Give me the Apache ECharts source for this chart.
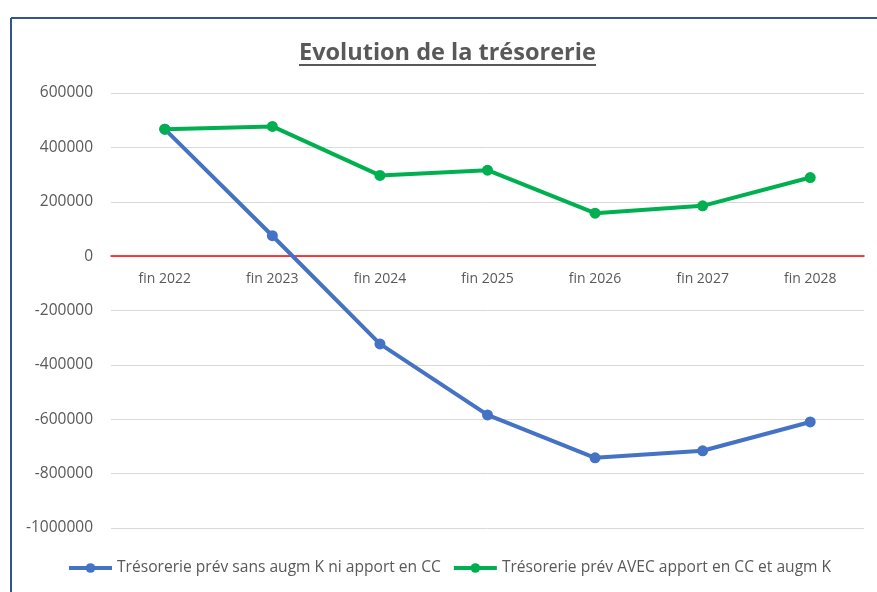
<!DOCTYPE html>
<html>
<head>
<meta charset="utf-8">
<script src="https://cdn.jsdelivr.net/npm/echarts@6/dist/echarts.min.js"></script>
<style>
html,body{margin:0;padding:0;background:#fff;}
#chart{width:877px;height:592px;}
</style>
</head>
<body>
<div id="chart"></div>
<script>
var categories = ['fin 2022','fin 2023','fin 2024','fin 2025','fin 2026','fin 2027','fin 2028'];
var seriesNames = ['Trésorerie prév sans augm K ni apport en CC','Trésorerie prév AVEC apport en CC et augm K'];
var sansApport = [467000, 75000, -323000, -584000, -742000, -716000, -610000];
var avecApport = [467000, 477000, 297000, 316000, 158000, 185000, 289000];
var titleText = 'Evolution de la trésorerie';

var chart = echarts.init(document.getElementById('chart'), null, {renderer:'canvas'});
var font = '"Open Sans", "Noto Sans", sans-serif';
var txt = '#595959';
chart.setOption({
  animation: false,
  backgroundColor: '#fff',
  title: {
    text: titleText,
    left: 294,
    top: 36,
    textStyle: {fontFamily: font, fontSize: 23.5, fontWeight: 'bold', color: txt}
  },
  graphic: [
    {type:'line', shape:{x1:11, y1:18, x2:877, y2:18}, style:{stroke:'#2F5597', lineWidth:2}},
    {type:'line', shape:{x1:11, y1:18, x2:11, y2:592}, style:{stroke:'#2F5597', lineWidth:2}},
    {type:'line', shape:{x1:299, y1:65, x2:596, y2:65}, style:{stroke:txt, lineWidth:2}}
  ],
  legend: {
    top: 555,
    left: 62,
    itemWidth: 43,
    itemHeight: 12,
    itemGap: 11,
    lineStyle: {width: 4},
    textStyle: {fontFamily: font, fontSize: 15.6, color: txt},
    data: seriesNames
  },
  grid: {left: 111, right: 13, top: 93, bottom: 64, containLabel: false},
  xAxis: {
    type: 'category',
    data: categories,
    boundaryGap: true,
    axisLine: {onZero: true, lineStyle: {color: '#FF0000', width: 1.5}},
    axisTick: {show: false},
    axisLabel: {fontFamily: font, fontSize: 14, color: txt, margin: -256}
  },
  yAxis: {
    type: 'value',
    min: -1000000,
    max: 600000,
    interval: 200000,
    axisLine: {show: false},
    axisTick: {show: false},
    axisLabel: {fontFamily: font, fontSize: 15.5, color: txt, margin: 18,
      formatter: function (v) { return String(v); }},
    splitLine: {lineStyle: {color: '#D9D9D9', width: 1}}
  },
  series: [
    {
      name: seriesNames[0], type: 'line', data: sansApport,
      symbol: 'circle', symbolSize: 11,
      lineStyle: {color: '#4472C4', width: 4},
      itemStyle: {color: '#4472C4'}
    },
    {
      name: seriesNames[1], type: 'line', data: avecApport,
      symbol: 'circle', symbolSize: 11,
      lineStyle: {color: '#00B050', width: 4},
      itemStyle: {color: '#00B050'}
    }
  ]
});
</script>
</body>
</html>
